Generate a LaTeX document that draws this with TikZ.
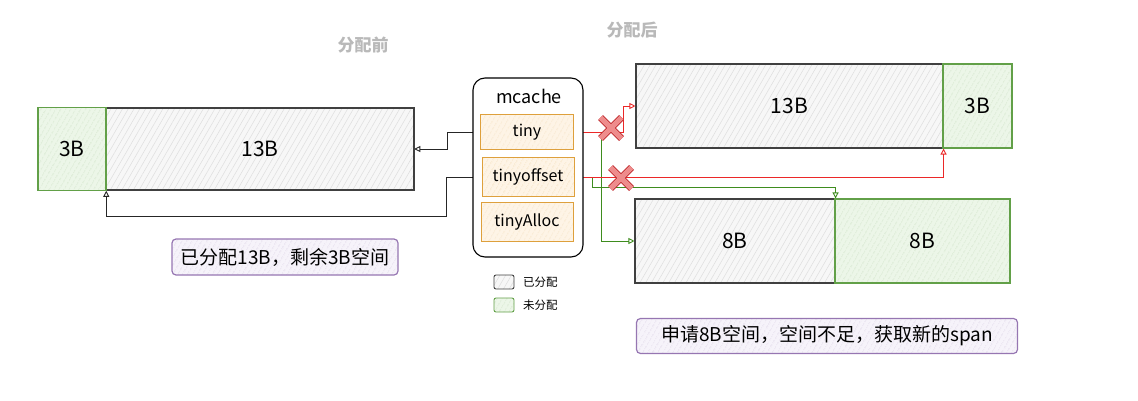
\documentclass[tikz,border=0pt]{standalone}
\usepackage{fontspec}
\setmainfont{Noto Sans CJK SC}
\usetikzlibrary{patterns.meta,arrows.meta,shapes.misc}
\definecolor{usedfill}{RGB}{247,247,247}
\definecolor{freeline}{RGB}{98,160,72}
\definecolor{freefill}{RGB}{236,246,232}
\definecolor{tinyline}{RGB}{222,160,60}
\definecolor{tinyfill}{RGB}{254,244,230}
\definecolor{noteline}{RGB}{150,118,178}
\definecolor{notefill}{RGB}{246,243,250}
\definecolor{redline}{RGB}{235,40,40}
\definecolor{greenline}{RGB}{62,140,30}
\definecolor{xdark}{RGB}{190,40,45}
\definecolor{xlight}{RGB}{238,140,140}
\definecolor{titlegray}{RGB}{185,185,185}
\pgfdeclarelayer{edgelayer}
\pgfdeclarelayer{nodelayer}
\pgfsetlayers{edgelayer,nodelayer,main}
\tikzstyle{usedbox}=[draw=black!75, line width=1.1pt, inner sep=0pt, preaction={fill=usedfill}, pattern={Lines[angle=60,distance=5pt,line width=0.5pt]}, pattern color=black!13, font=\fontsize{21}{25}\selectfont]
\tikzstyle{freebox}=[draw=freeline, line width=1.1pt, inner sep=0pt, preaction={fill=freefill}, pattern={Lines[angle=60,distance=4pt,line width=0.5pt]}, pattern color=freeline!35, font=\fontsize{21}{25}\selectfont]
\tikzstyle{cachebox}=[draw=black, line width=1.1pt, rounded corners=12pt, fill=white, inner sep=0pt]
\tikzstyle{field}=[draw=tinyline, line width=1pt, inner sep=0pt, preaction={fill=tinyfill}, pattern={Lines[angle=60,distance=4pt,line width=0.5pt]}, pattern color=tinyline!35, font=\fontsize{16}{19}\selectfont]
\tikzstyle{note}=[draw=noteline, line width=1.2pt, rounded corners=4pt, inner sep=0pt, preaction={fill=notefill}, pattern={Lines[angle=60,distance=4pt,line width=0.5pt]}, pattern color=noteline!30, font=\fontsize{19}{23}\selectfont]
\tikzstyle{title}=[text=titlegray, font=\fontsize{17}{20}\selectfont\bfseries]
\tikzstyle{legendtext}=[anchor=west, inner sep=0pt, font=\fontsize{11.5}{14}\selectfont]
\tikzstyle{xmark}=[cross out, draw=xdark, line width=1pt, double=xlight, double distance=5pt, minimum size=20pt, inner sep=0pt]
\tikzstyle{blackedge}=[draw=black!85, line width=0.9pt, -{Triangle[open,length=6pt,width=6pt]}]
\tikzstyle{rededge}=[draw=redline, line width=0.9pt, -{Triangle[open,length=6pt,width=6pt]}]
\tikzstyle{greenedge}=[draw=greenline, line width=0.9pt, -{Triangle[open,length=6pt,width=6pt]}]

\begin{document}
\begin{tikzpicture}[x=1pt, y=-1pt]
\useasboundingbox (0,0) rectangle (1138,401);
	\begin{pgfonlayer}{nodelayer}
		\node [style=title] (before) at (363,45) {分配前};
		\node [style=title] (after) at (632,30) {分配后};
		\node [style=usedbox, minimum width=308pt, minimum height=82pt] (old13) at (260,149) {13B};
		\node [style=freebox, minimum width=68pt, minimum height=83pt] (old3) at (72,149) {3B};
		\node [style=cachebox, minimum width=110pt, minimum height=179pt] (mcache) at (528,167.5) {};
		\node [font=\fontsize{18}{21}\selectfont] (mcachelbl) at (529,96) {mcache};
		\node [style=field, minimum width=93pt, minimum height=35pt] (tiny) at (527,132) {tiny};
		\node [style=field, minimum width=92pt, minimum height=38pt] (off) at (528,177) {tinyoffset};
		\node [style=field, minimum width=92pt, minimum height=39pt] (alloc) at (527,222) {tinyAlloc};
		\node [style=usedbox, minimum width=307pt, minimum height=84pt] (new13) at (789.5,106) {13B};
		\node [style=freebox, minimum width=69pt, minimum height=84pt] (new3) at (977.5,106) {3B};
		\node [style=usedbox, minimum width=200pt, minimum height=84pt] (new8a) at (735,241) {8B};
		\node [style=freebox, minimum width=175pt, minimum height=84pt] (new8b) at (922.5,241) {8B};
		\node [style=note, minimum width=226pt, minimum height=36pt] (note1) at (285,257) {已分配13B，剩余3B空间};
		\node [style=note, minimum width=381pt, minimum height=35pt] (note2) at (827,336) {申请8B空间，空间不足，获取新的span};
		\node [style=usedbox, line width=0.9pt, rounded corners=2pt, minimum width=20pt, minimum height=14pt] (leg1) at (504,282) {};
		\node [style=legendtext] (legtxt1) at (523,282) {已分配};
		\node [style=freebox, line width=0.9pt, rounded corners=2pt, minimum width=20pt, minimum height=14pt] (leg2) at (504,305) {};
		\node [style=legendtext] (legtxt2) at (523,305) {未分配};
		\node [style=xmark] (x1) at (611,128) {};
		\node [style=xmark] (x2) at (621,178) {};
	\end{pgfonlayer}
	\begin{pgfonlayer}{edgelayer}
		\draw [style=blackedge] (tiny.west) -- ++(-33,0) |- (old13.east);
		\draw [style=blackedge] (off.west) -- ++(-35,0) -- ++(0,39) -| (old3.south east);
		\draw [style=greenedge] (tiny.east) -- ++(27,0) |- (new8a.west);
		\draw [style=greenedge] (off.east) -- ++(18,0) -- ++(0,10) -| (new8a.north east);
		\draw [style=rededge] (tiny.east) -- ++(49,0) |- (new13.west);
		\draw [style=rededge] (off.east) -| (new13.south east);
	\end{pgfonlayer}
\end{tikzpicture}
\end{document}
